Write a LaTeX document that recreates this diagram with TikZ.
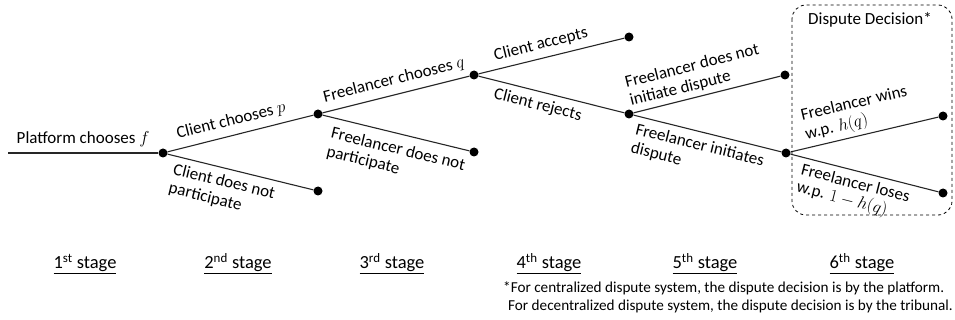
\documentclass[tikz,border=0pt]{standalone}
\usepackage{fontspec}
\setmainfont{Carlito}
\begin{document}
\begin{tikzpicture}[x=1pt,y=-1pt,
  dot/.style={circle,fill=black,inner sep=0pt,minimum size=9pt},
  edge/.style={line width=1.1pt,draw=black!85},
  lbl/.style={font=\fontsize{17}{19}\selectfont,sloped,inner sep=2pt,align=left},
  up/.style={lbl,above=4pt},
  down/.style={lbl,below=4pt},
  stage/.style={font=\fontsize{18.5}{20}\selectfont,anchor=base},
  note/.style={font=\fontsize{15.2}{17}\selectfont,anchor=base west,inner sep=0pt}]
\useasboundingbox (0,0) rectangle (955,320);

% decision nodes of the game tree
\coordinate (O) at (8,153);
\node[dot] (A) at (163,153) {};
\node[dot] (B) at (318,114) {};
\node[dot] (C) at (318,191) {};
\node[dot] (D) at (474,75) {};
\node[dot] (E) at (474,152) {};
\node[dot] (F) at (629,37) {};
\node[dot] (G) at (629,114) {};
\node[dot] (H) at (785,75) {};
\node[dot] (I) at (786,153) {};
\node[dot] (J) at (943,116) {};
\node[dot] (K) at (943,193) {};

% branches with their labels
\draw[edge] (O) -- (A) node[lbl,pos=0.5,above=4pt] {Platform chooses $f$};
\draw[edge] (A) -- (B) node[up,pos=0.46] {Client chooses $p$};
\draw[edge] (A) -- (C) node[down,pos=0.41] {Client does not\\participate};
\draw[edge] (B) -- (D) node[up,pos=0.51] {Freelancer chooses $q$};
\draw[edge] (B) -- (E) node[lbl,below=6pt,pos=0.54] {Freelancer does not\\participate};
\draw[edge] (D) -- (F) node[up,pos=0.45] {Client accepts};
\draw[edge] (D) -- (G) node[down,pos=0.43] {Client rejects};
\draw[edge] (G) -- (H) node[lbl,above=2pt,pos=0.45] {Freelancer does not\\initiate dispute};
\draw[edge] (G) -- (I) node[down,pos=0.47] {Freelancer initiates\\dispute};
\draw[edge] (I) -- (J) node[lbl,above=2pt,pos=0.48] {Freelancer wins\\w.p. $h(q)$};
\draw[edge] (I) -- (K) node[lbl,font=\fontsize{17}{18}\selectfont,below=3pt,pos=0.46] {Freelancer loses\\w.p. $1-h(q)$};

% dispute decision region
\draw[dashed,line width=0.8pt,rounded corners=14pt] (792,5) rectangle (952,215);
\node[font=\fontsize{17}{18.5}\selectfont] (dd) at (870,20) {Dispute Decision*};

% stage captions
\node[stage] (s1) at (85,269) {\underline{1\textsuperscript{st} stage}};
\node[stage] (s2) at (238,269) {\underline{2\textsuperscript{nd} stage}};
\node[stage] (s3) at (392,269) {\underline{3\textsuperscript{rd} stage}};
\node[stage] (s4) at (549,269) {\underline{4\textsuperscript{th} stage}};
\node[stage] (s5) at (705,269) {\underline{5\textsuperscript{th} stage}};
\node[stage] (s6) at (862,269) {\underline{6\textsuperscript{th} stage}};

% footnote
\node[note] (n1) at (503,292) {*For centralized dispute system, the dispute decision is by the platform.};
\node[note] (n2) at (508,310) {For decentralized dispute system, the dispute decision is by the tribunal.};
\end{tikzpicture}
\end{document}
